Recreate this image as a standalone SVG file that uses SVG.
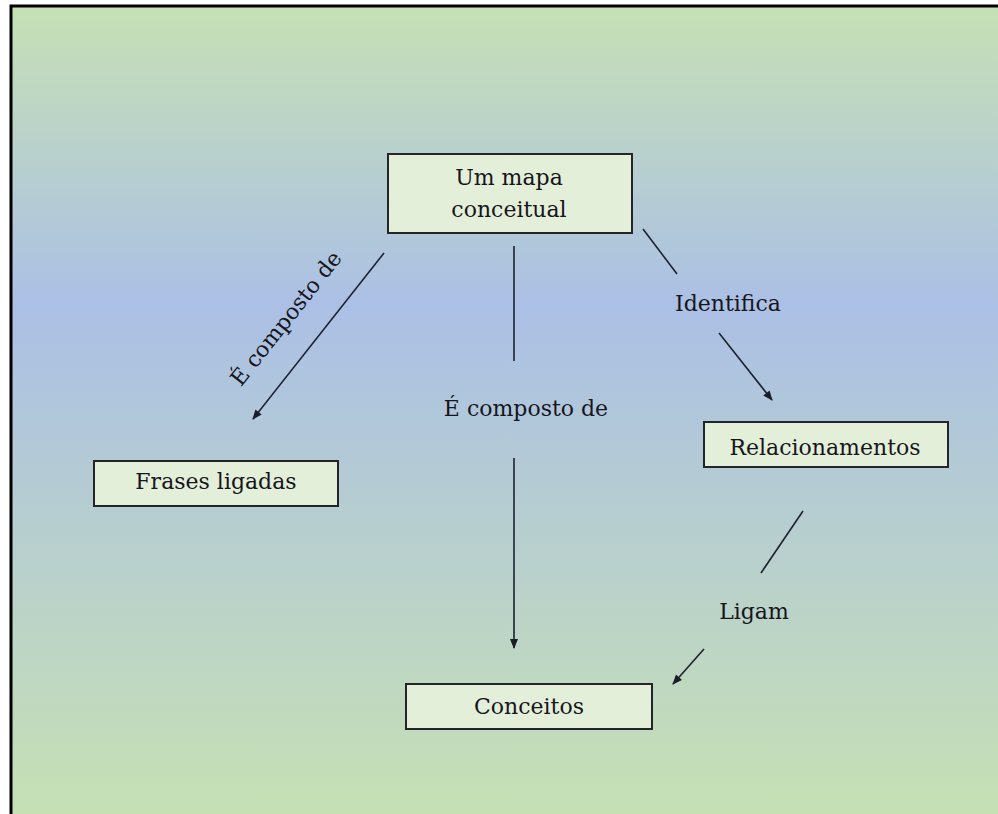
<svg xmlns="http://www.w3.org/2000/svg" width="998" height="814" viewBox="0 0 998 814">
<defs>
<linearGradient id="bg" x1="0" y1="0" x2="0" y2="1">
<stop offset="0" stop-color="#c6e0b5"/>
<stop offset="0.37" stop-color="#abc0e5"/>
<stop offset="1" stop-color="#c6e0b4"/>
</linearGradient>
<marker id="arr" viewBox="0 0 10 10" refX="9" refY="5" markerWidth="11" markerHeight="10" markerUnits="userSpaceOnUse" orient="auto">
<path d="M0,1 L10,5 L0,9 z" fill="#1a1c2a"/>
</marker>
<style>
.box{fill:#e4efd9;stroke:#23252a;stroke-width:2}
.t{font-family:"DejaVu Serif","Liberation Serif",serif;font-size:22px;fill:#16161c;text-anchor:middle}
.c{stroke:#1e2130;stroke-width:1.6;fill:none}
.a{marker-end:url(#arr)}
</style>
</defs>
<rect x="0" y="0" width="998" height="814" fill="#ffffff"/>
<rect x="12" y="7" width="986" height="807" fill="url(#bg)"/>
<path d="M11,814 V6 H998" fill="none" stroke="#000" stroke-width="3"/>
<g id="connectors">
<line class="c a" x1="384" y1="253" x2="253" y2="419"/>
<line class="c" x1="514" y1="246" x2="514" y2="361"/>
<line class="c a" x1="514" y1="458" x2="514" y2="648"/>
<line class="c" x1="643" y1="229" x2="677" y2="274"/>
<line class="c a" x1="719" y1="333" x2="772" y2="400"/>
<line class="c" x1="803" y1="511" x2="761" y2="573"/>
<line class="c a" x1="704" y1="649" x2="673" y2="684"/>
<text class="t" transform="translate(292,323) rotate(-51.7)">É composto de</text>
<text class="t" x="526" y="416">É composto de</text>
<text class="t" x="728" y="311">Identifica</text>
<text class="t" x="754" y="619">Ligam</text>
</g>
<g id="mapa">
<rect class="box" x="388" y="154" width="244" height="79"/>
<text class="t" x="509" y="185">Um mapa</text>
<text class="t" x="509" y="217">conceitual</text>
</g>
<g id="frases">
<rect class="box" x="94" y="461" width="244" height="45"/>
<text class="t" x="216" y="489">Frases ligadas</text>
</g>
<g id="relacionamentos">
<rect class="box" x="704" y="422" width="244" height="45"/>
<text class="t" x="825" y="455">Relacionamentos</text>
</g>
<g id="conceitos">
<rect class="box" x="406" y="684" width="246" height="45"/>
<text class="t" x="529" y="714">Conceitos</text>
</g>
</svg>
